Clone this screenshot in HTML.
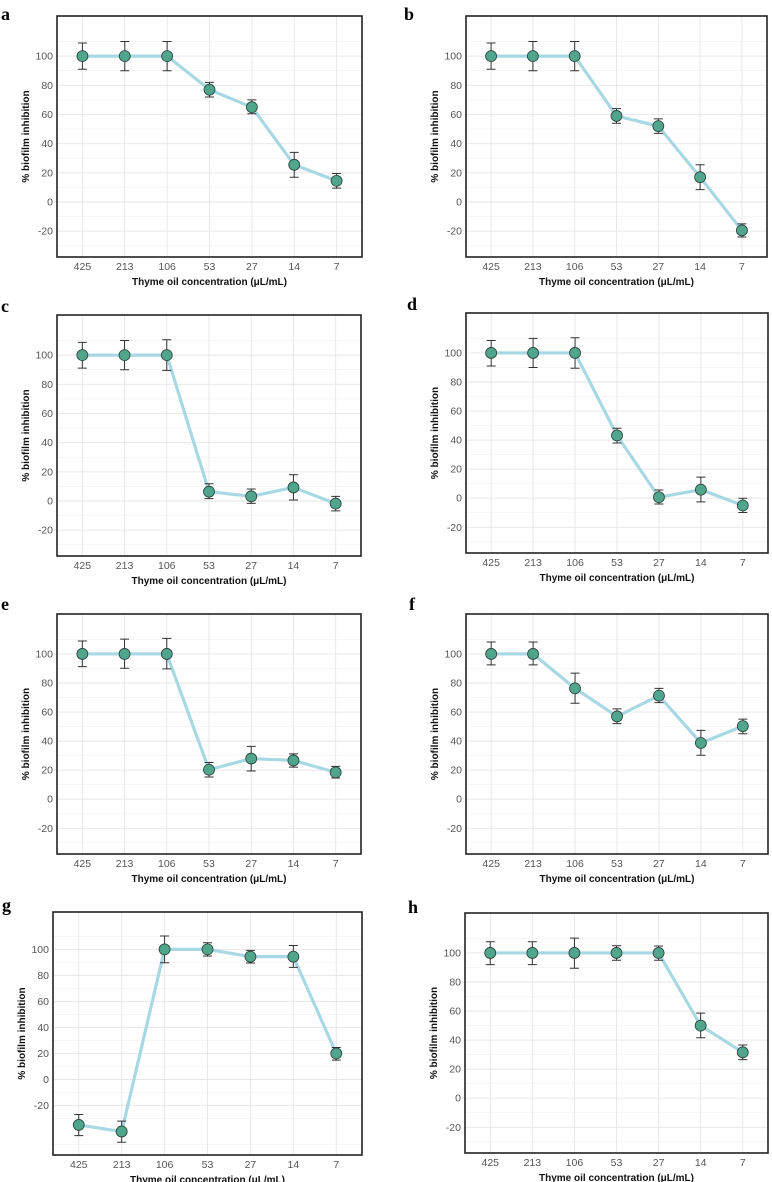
<!DOCTYPE html>
<html><head><meta charset="utf-8"><style>
html,body{margin:0;padding:0;background:#fff;}
svg{display:block;}
text{font-family:"Liberation Sans",sans-serif;}
text.plabel{font-family:"Liberation Serif",serif;}
</style></head><body>
<svg id="chart" width="772" height="1182" viewBox="0 0 772 1182" xmlns="http://www.w3.org/2000/svg"></svg>
<script>
const categories = ["425","213","106","53","27","14","7"];
const yTicks = [-20,0,20,40,60,80,100];
const panelLabels = ["a","b","c","d","e","f","g","h"];
const valuesA = [100,100,100,77,65,25.5,14.5];
const lowA = [91,90,90,72,60.5,17,9.5];
const highA = [109,110,110,82,70,34,19.5];
const valuesB = [100,100,100,59,52,17,-19.5];
const lowB = [91,90,90,54,47,8.5,-24];
const highB = [109,110,110,64,57,25.5,-15];
const valuesC = [100,100,100,6.4,3.2,9.3,-1.8];
const lowC = [91.1,90,89.5,1.6,-1.6,0.7,-6.8];
const highC = [108.7,110,110.5,11.8,8.2,18,3.2];
const valuesD = [100,100,100,43.2,0.7,5.9,-5];
const lowD = [91,90,89.5,38,-4,-2.5,-9.8];
const highD = [108.6,110,110.5,48.2,5.7,14.5,0];
const valuesE = [100,100,100,20.3,28,26.7,18.5];
const lowE = [91.3,90.2,89.7,15.3,19.4,22.1,14.6];
const highE = [108.9,110.2,110.7,25.3,36.4,31.2,22.6];
const valuesF = [100,100,76.3,57,71.3,38.7,50.3];
const lowF = [92.5,92.5,66.1,52,66.5,30.3,45.1];
const highF = [108.2,108.2,86.8,62.2,76.3,47.4,55.1];
const valuesG = [-34.9,-40,100,100,94.4,94.4,20];
const lowG = [-43.1,-48.2,89.7,94.9,89.5,86.2,14.9];
const highG = [-26.9,-32,110.3,105.1,99.2,103,24.6];
const valuesH = [100,100,100,100,100,50,31.6];
const lowH = [92,92,89.5,95,95,41.6,26.6];
const highH = [107.7,107.7,110.2,105,104.8,58.6,36.6];

const seriesVals = [valuesA,valuesB,valuesC,valuesD,valuesE,valuesF,valuesG,valuesH];
const seriesLow = [lowA,lowB,lowC,lowD,lowE,lowF,lowG,lowH];
const seriesHigh = [highA,highB,highC,highD,highE,highF,highG,highH];

const layouts = [
 {L:57,T:16,R:362,B:257,ymin:-37.7,ymax:127.5,lx:1,ly:20},
 {L:466,T:16,R:767,B:257,ymin:-37.7,ymax:127.5,lx:404,ly:20},
 {L:57,T:315,R:361,B:556,ymin:-37.7,ymax:127.5,lx:1,ly:312},
 {L:466,T:313,R:768,B:553,ymin:-37.7,ymax:127.5,lx:407,ly:310},
 {L:57,T:614,R:361,B:854,ymin:-37.7,ymax:127.5,lx:1,ly:610},
 {L:466,T:614,R:768,B:854,ymin:-37.7,ymax:127.5,lx:409,ly:610},
 {L:53,T:912,R:362,B:1155,ymin:-58,ymax:128.7,lx:2,ly:911},
 {L:465,T:913,R:768,B:1153,ymin:-37.7,ymax:127.5,lx:408,ly:913}
];
const NS="http://www.w3.org/2000/svg";
const svg=document.getElementById('chart');
function mk(tag,attrs,parent){const e=document.createElementNS(NS,tag);for(const k in attrs)e.setAttribute(k,attrs[k]);(parent||svg).appendChild(e);return e;}

layouts.forEach((p,pi)=>{
  const g=mk('g',{});
  
  
  const W=p.R-p.L;
  const x=i=>p.L+(i+0.6)*W/7.2;
  const y=v=>p.B-(v-p.ymin)/(p.ymax-p.ymin)*(p.B-p.T);
  const lab=mk('text',{x:p.lx,y:p.ly,'class':'plabel','font-weight':'bold','font-size':'18'},g);
  lab.textContent=panelLabels[pi];
  
  
  for(let v=-50;v<=130;v+=20){ if(v>p.ymin&&v<p.ymax) mk('line',{x1:p.L,x2:p.R,y1:y(v),y2:y(v),stroke:'#f0f0f0','stroke-width':0.6},g); }
  yTicks.forEach(t=>{
    const gl=mk('line',{x1:p.L,x2:p.R,y1:y(t),y2:y(t),stroke:'#e6e6e6','stroke-width':0.9},g);
    
    
    const tl=mk('text',{x:p.L-4,y:y(t)+3.5,'text-anchor':'end','font-size':'10.5',fill:'#555'},g);
    tl.textContent=t;
    
    
  });
  categories.forEach((c,i)=>{
    mk('line',{x1:x(i),x2:x(i),y1:p.T,y2:p.B,stroke:'#e6e6e6','stroke-width':0.9},g);
    const tl=mk('text',{x:x(i),y:p.B+13,'text-anchor':'middle','font-size':'10.5',fill:'#555'},g);
    tl.textContent=c;
    
    
  });
  const vals=seriesVals[pi],lo=seriesLow[pi],hi=seriesHigh[pi];
  const line=mk('polyline',{points:vals.map((v,i)=>x(i)+','+y(v)).join(' '),fill:'none',stroke:'#a8d8e4','stroke-width':3.2,'stroke-linejoin':'round'},g);
  
  
  vals.forEach((v,i)=>{
    const eb=mk('path',{d:`M${x(i)-4.5},${y(hi[i])}H${x(i)+4.5}M${x(i)},${y(hi[i])}V${y(lo[i])}M${x(i)-4.5},${y(lo[i])}H${x(i)+4.5}`,stroke:'#333','stroke-width':1,fill:'none'},g);
    
    
    const pt=mk('circle',{cx:x(i),cy:y(v),r:5.5,fill:'#4fa68c',stroke:'#2c3e3a','stroke-width':0.8},g);
    
    
  });
  const box=mk('rect',{x:p.L,y:p.T,width:W,height:p.B-p.T,fill:'none',stroke:'#222','stroke-width':1.6},g);
  
  
  const xt=mk('text',{x:(p.L+p.R)/2,y:p.B+28,'text-anchor':'middle','font-size':'10','font-weight':'bold',fill:'#111'},g);
  xt.textContent='Thyme oil concentration (\u03bcL/mL)';
  
  
  const cy=(p.T+p.B)/2;
  const yt=mk('text',{x:p.L-28,y:cy,'text-anchor':'middle','font-size':'10','font-weight':'bold',fill:'#111',transform:`rotate(-90 ${p.L-28} ${cy})`},g);
  yt.textContent='% biofilm inhibition';
  
  
});
</script>
</body></html>
